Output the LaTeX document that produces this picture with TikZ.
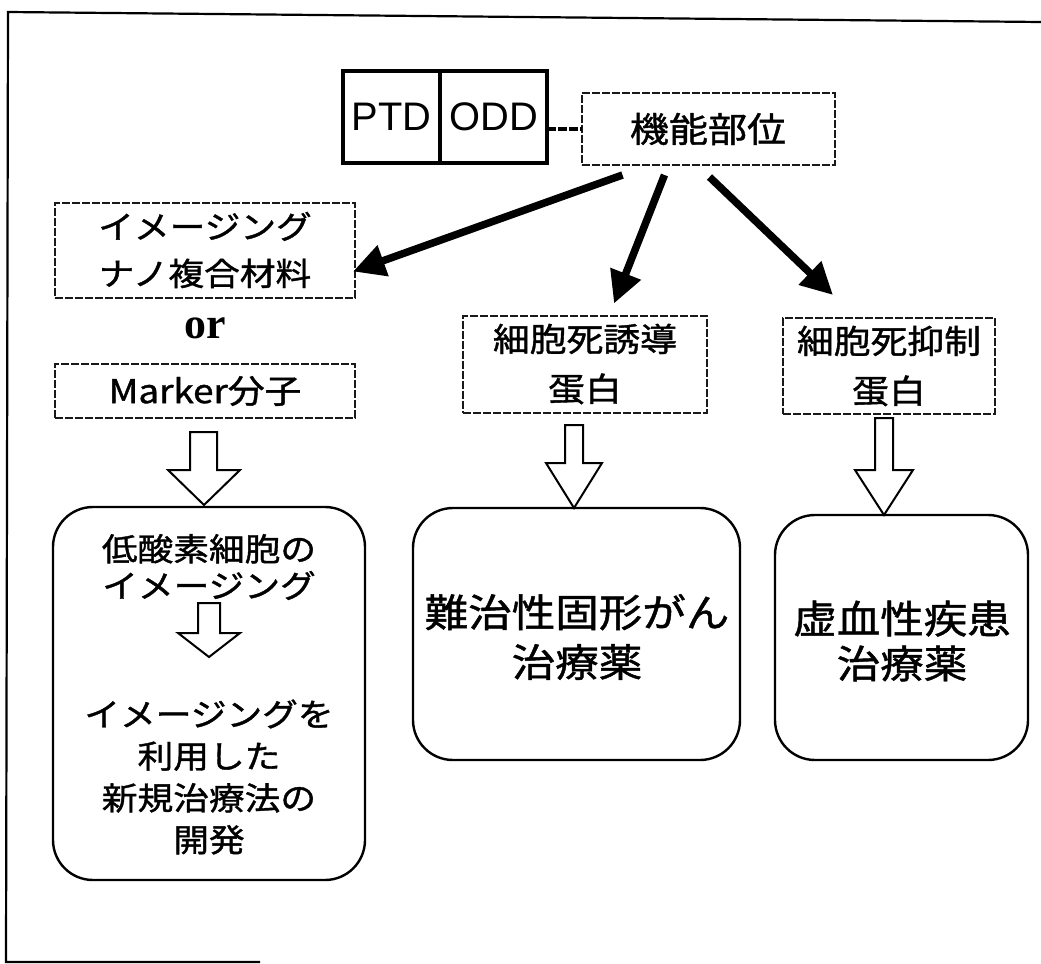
\documentclass[tikz,border=0pt]{standalone}
\usepackage{fontspec}
\setmainfont{Liberation Sans}
\newfontfamily\jp[FakeStretch=1.12,FakeBold=1.2]{Noto Sans CJK JP}
\newfontfamily\orfont{Liberation Serif}
\usetikzlibrary{arrows.meta,calc}
\begin{document}
\begin{tikzpicture}[x=1bp,y=-1bp,
  dbox/.style={draw=black!90, dash pattern=on 8bp off 2bp, line width=2bp, inner sep=0, outer sep=0, align=center, font=\jp\fontsize{32}{50}\selectfont},
  cell/.style={draw, line width=3.5bp, inner sep=0, outer sep=0, minimum height=92bp, font=\fontsize{40}{44}\selectfont},
  rbox/.style={draw, rounded corners=40bp, line width=2.4bp, inner sep=0, outer sep=0},
  txt/.style={align=center, inner sep=0, font=\jp\fontsize{32}{40}\selectfont},
  bigtxt/.style={align=center, inner sep=0, font=\jp\fontsize{39}{50}\selectfont},
  link/.style={line width=7.5bp, -{Triangle[length=32bp,width=31bp]}},
  hollow/.style={draw, line width=2bp, fill=white, line join=miter}
]
\useasboundingbox (0,0) rectangle (1041,964);
% frame
\draw[line width=2.2bp] (1041,22) -- (8,12) -- (6,962) -- (260,962);

% top
\node[cell, minimum width=97bp] (ptd) at (391.5,117) {PTD};
\node[cell, minimum width=107bp, anchor=west] (odd) at (ptd.east) {ODD};
\node[dbox, minimum width=253bp, minimum height=72bp, font=\jp\fontsize{35}{40}\selectfont] (func) at (708,129) {機能部位};
\draw[line width=4bp, dash pattern=on 9bp off 2bp] (odd.east |- func.west) -- (func.west);

% left column
\node[dbox, minimum width=300bp, minimum height=95bp, font=\jp\fontsize{32}{47}\selectfont] (img) at (205,250) {イメージング\\ナノ複合材料};
\node[inner sep=0, font=\orfont\bfseries\fontsize{44}{46}\selectfont] (or) at (205,328) {or};
\node[dbox, minimum width=300bp, minimum height=54bp, font=\jp\fontsize{33}{40}\selectfont] (mk) at (205,391) {Marker分子};
\node[rbox, minimum width=312bp, minimum height=373bp] (lb) at (209,693.5) {};
\node[txt, font=\jp\fontsize{32}{37}\selectfont] (t1) at (209,567) {低酸素細胞の\\イメージング};
\node[txt, font=\jp\fontsize{32}{42}\selectfont] (t2) at (209,777) {イメージングを\\利用した\\新規治療法の\\開発};

% middle column
\node[dbox, minimum width=244bp, minimum height=97bp, font=\jp\fontsize{33}{50}\selectfont] (ind) at (585,364) {細胞死誘導\\蛋白};
\node[rbox, minimum width=327bp, minimum height=252bp] (mb) at (576.5,634) {};
\node[bigtxt] (mt) at (577,637) {難治性固形がん\\治療薬};

% right column
\node[dbox, minimum width=212bp, minimum height=96bp, font=\jp\fontsize{33}{50}\selectfont] (sup) at (889,366) {細胞死抑制\\蛋白};
\node[rbox, minimum width=253bp, minimum height=245bp] (rb) at (901.5,637.5) {};
\node[bigtxt, font=\jp\fontsize{39}{45}\selectfont] (rt) at (902,641) {虚血性疾患\\治療薬};

% filled arrows
\draw[link] ($(func.south west)+(41,10)$) -- ($(img.south east)+(-2,-26)$);
\draw[link] ($(func.south west)+(83,10)$) -- ($(ind.north)+(29,-12)$);
\draw[link] ($(func.south west)+(128,12)$) -- ($(sup.north)+(-56,-23)$);

% hollow block arrows
\draw[hollow] (190,432) -- (217,432) -- (217,470) -- (240,470) -- (204,505) -- (168,470) -- (190,470) -- cycle;
\draw[hollow] (198,603) -- (220,603) -- (220,633) -- (240,633) -- (209,657) -- (178,633) -- (198,633) -- cycle;
\draw[hollow] (565,425) -- (583,425) -- (583,463) -- (602,463) -- (574,508) -- (546,463) -- (565,463) -- cycle;
\draw[hollow] (875,418) -- (893,418) -- (893,470) -- (913,470) -- (884,515) -- (855,470) -- (875,470) -- cycle;
\end{tikzpicture}
\end{document}
